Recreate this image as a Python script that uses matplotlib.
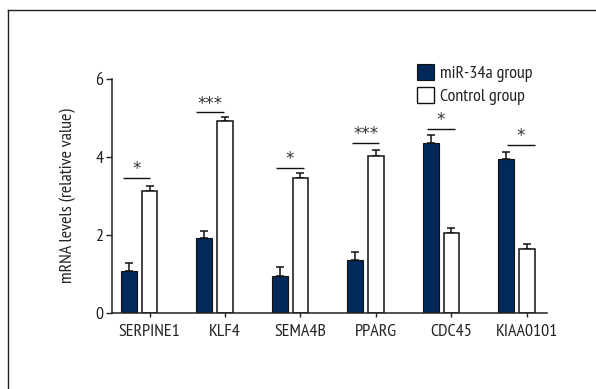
import matplotlib
matplotlib.use("Agg")
import matplotlib.pyplot as plt
from matplotlib.patches import Patch
import numpy as np

FONT = "PT Sans Narrow"
plt.rcParams["font.family"] = [FONT, "DejaVu Sans"]

categories = ["SERPINE1", "KLF4", "SEMA4B", "PPARG", "CDC45", "KIAA0101"]
mir34a = [1.06, 1.91, 0.94, 1.36, 4.37, 3.94]
mir34a_err = [0.21, 0.18, 0.24, 0.19, 0.19, 0.19]
control = [3.13, 4.92, 3.47, 4.04, 2.04, 1.65]
control_err = [0.13, 0.10, 0.11, 0.13, 0.15, 0.11]
sig_labels = ["*", "***", "*", "***", "*", "*"]
sig_level = [3.47, 5.15, 3.72, 4.36, 4.73, 4.32]
sig_left = [-0.21, -0.24, -0.19, -0.18, -0.19, -0.13]
sig_right = [0.15, 0.13, 0.19, 0.18, 0.18, 0.25]
legend_labels = ["miR-34a group", "Control group"]

NAVY = "#03295a"
INK = "#222222"
FS = 13

fig = plt.figure(figsize=(5.96, 3.89), dpi=100)
ax = fig.add_axes([111.7 / 596, 1 - 312.7 / 389, (546.7 - 111.7) / 596, (312.7 - 79.3) / 389])

x = np.arange(len(categories))
w = 0.21
off = 0.138
ax.bar(x - off, mir34a, w, color=NAVY, edgecolor="#111111", linewidth=0.8, zorder=2)
ax.bar(x + off, control, w, color="white", edgecolor="#111111", linewidth=1.1, zorder=2)
ax.errorbar(x - off, mir34a, yerr=[np.zeros(len(x)), mir34a_err], fmt="none",
            ecolor="#111111", elinewidth=1.1, capsize=3, capthick=1.1, zorder=1)
ax.errorbar(x + off, control, yerr=[np.zeros(len(x)), control_err], fmt="none",
            ecolor="#111111", elinewidth=1.1, capsize=3, capthick=1.1, zorder=1)

for i, (lab, lev, l, r) in enumerate(zip(sig_labels, sig_level, sig_left, sig_right)):
    ax.plot([i + l, i + r], [lev, lev], color="#111111", lw=1.0, solid_capstyle="butt")
    ax.text(i + (l + r) / 2, lev - 0.01, lab, ha="center", va="bottom",
            fontsize=12, color="#333333", family="DejaVu Sans")

ax.set_xlim(-0.363, 5.40)
ax.set_ylim(0, 6)
ax.set_yticks([0, 2, 4, 6])
ax.set_xticks(x + off)
ax.set_xticklabels(categories)
ax.tick_params(axis="both", colors=INK, labelsize=FS, width=1.0, length=4, direction="out")
ax.tick_params(axis="x", length=3, pad=5)
ax.tick_params(axis="y", pad=2)
for s in ["top", "right"]:
    ax.spines[s].set_visible(False)
for s in ["left", "bottom"]:
    ax.spines[s].set_color(INK)
    ax.spines[s].set_linewidth(1.1)
ax.set_ylabel("mRNA levels (relative value)", fontsize=FS, color=INK, labelpad=14)

handles = [Patch(facecolor=NAVY, edgecolor="#111111", linewidth=0.8),
           Patch(facecolor="white", edgecolor="#111111", linewidth=1.0)]
fig.legend(handles, legend_labels, loc="upper left", bbox_to_anchor=(417 / 596, 1 - 64 / 389),
           frameon=False, fontsize=FS, handlelength=0.95, handleheight=1.0,
           handletextpad=0.3, labelspacing=0.25, borderpad=0, borderaxespad=0,
           labelcolor=INK)

# figure border (top and left edges)
fig.add_artist(plt.Line2D([8 / 596, 8 / 596], [0, 1 - 10 / 389], transform=fig.transFigure,
                          color="#222222", lw=1.0))
fig.add_artist(plt.Line2D([8 / 596, 1], [1 - 10 / 389, 1 - 10 / 389], transform=fig.transFigure,
                          color="#222222", lw=1.0))

fig.savefig("out.png", dpi=100)
